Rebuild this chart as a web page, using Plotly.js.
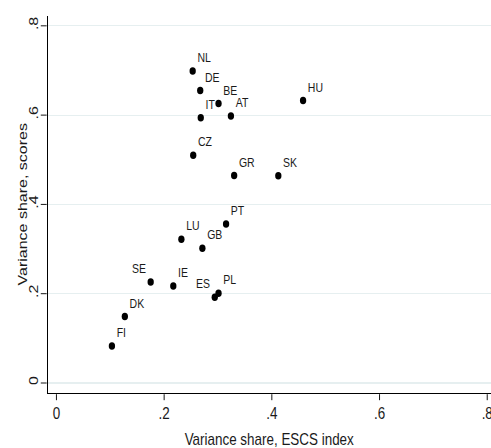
<!DOCTYPE html>
<html><head><meta charset="utf-8">
<script src="https://cdn.plot.ly/plotly-3.0.1.min.js"></script>
<style>
html,body{margin:0;padding:0;background:#fff;overflow:hidden}
#wrap{width:491px;height:448px;overflow:hidden}
#c{width:585px;height:448px;transform:scaleX(0.8393);transform-origin:0 0}
</style>
</head><body><div id="wrap"><div id="c"></div></div>
<script>
const countries = ["NL","DE","BE","IT","AT","CZ","GR","HU","SK","PT","LU","GB","SE","IE","ES","PL","DK","FI"];
const escsShare = [0.253,0.267,0.301,0.268,0.324,0.254,0.330,0.458,0.412,0.315,0.232,0.271,0.175,0.217,0.294,0.301,0.127,0.103];
const scoreShare = [0.699,0.655,0.626,0.594,0.598,0.510,0.465,0.633,0.464,0.356,0.322,0.302,0.226,0.217,0.192,0.201,0.149,0.083];
const labelSide = ["top right","top right","top right","top right","top right","top right","top right","top right","top right","top right","top right","top right","top left","top right","top left","top right","top right","top right"];
const tickVals = [0,0.2,0.4,0.6,0.8];
const tickText = ["0",".2",".4",".6",".8"];
const xTitle = "Variance share, ESCS index";
const yTitle = "Variance share, scores";

Plotly.newPlot("c", [{
  type: "scatter", mode: "markers+text",
  x: escsShare, y: scoreShare, text: countries, textposition: labelSide,
  marker: {color: "#000", size: 7.5},
  textfont: {family: "Liberation Sans, Arial, sans-serif", size: 12.5, color: "#1a1a1a"},
  cliponaxis: false, hoverinfo: "none"
}], {
  width: 585, height: 448,
  margin: {l: 57, r: 0, t: 16, b: 55},
  paper_bgcolor: "#fff", plot_bgcolor: "#fff",
  font: {family: "Liberation Sans, Arial, sans-serif", color: "#1a1a1a"},
  showlegend: false,
  xaxis: {
    range: [-0.016, 0.807], tickvals: tickVals, ticktext: tickText, ticklabeloverflow: "allow",
    ticks: "outside", ticklen: 6, tickcolor: "#000", showgrid: false, zeroline: false,
    showline: true, linecolor: "#000", linewidth: 1.2, tickfont: {size: 16}
  },
  yaxis: {
    range: [-0.0224, 0.822], tickvals: tickVals, ticktext: tickText, tickangle: -90,
    ticklabelstandoff: -3,
    ticks: "outside", ticklen: 7, tickcolor: "#000", showgrid: true, gridcolor: "#e6eff0", gridwidth: 1.2,
    zeroline: false, showline: true, linecolor: "#000", linewidth: 1.4, tickfont: {size: 16}
  },
  annotations: [{
    text: yTitle, xref: "paper", yref: "paper", x: 0, y: 0.5,
    xanchor: "center", yanchor: "middle", xshift: -30, textangle: -90,
    showarrow: false, font: {size: 16, color: "#1a1a1a"}
  }, {
    text: xTitle, xref: "paper", yref: "paper", x: 0.5, y: 0,
    xanchor: "center", yanchor: "middle", yshift: -46,
    showarrow: false, font: {size: 16, color: "#1a1a1a"}
  }]
}, {staticPlot: true});
</script></body></html>
